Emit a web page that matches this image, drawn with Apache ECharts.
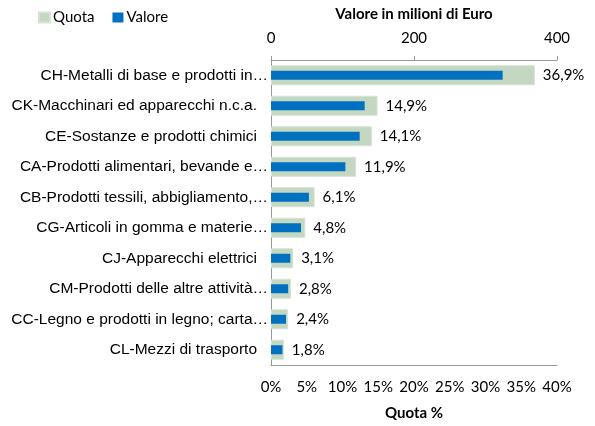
<!DOCTYPE html>
<html>
<head>
<meta charset="utf-8">
<script src="https://cdn.jsdelivr.net/npm/echarts@6/dist/echarts.min.js"></script>
<style>
  html, body { margin: 0; padding: 0; background: #fff; }
</style>
</head>
<body>
<div id="chart" style="width:595px;height:426px;"></div>
<script>
// settori (etichette come appaiono nel grafico)
const categories = [
  "CH-Metalli di base e prodotti in…",
  "CK-Macchinari ed apparecchi n.c.a.",
  "CE-Sostanze e prodotti chimici",
  "CA-Prodotti alimentari, bevande e…",
  "CB-Prodotti tessili, abbigliamento,…",
  "CG-Articoli in gomma e materie…",
  "CJ-Apparecchi elettrici",
  "CM-Prodotti delle altre attività…",
  "CC-Legno e prodotti in legno; carta…",
  "CL-Mezzi di trasporto"
];
// quota % e valore in milioni di euro
const quota = [36.9, 14.9, 14.1, 11.9, 6.1, 4.8, 3.1, 2.8, 2.4, 1.8];
const valore = [324, 131, 124, 104, 53, 42, 27, 24, 21, 16];

const catFont = "Liberation Sans";
const font = "Lato";
const isCut = s => s.endsWith("…");

const chart = echarts.init(document.getElementById("chart"));
const option = {
  textStyle: { fontFamily: font },
  legend: {
    left: 33,
    top: 5,
    icon: "rect",
    itemWidth: 11,
    itemHeight: 10,
    itemGap: 18,
    textStyle: { fontSize: 15, color: "#000", fontFamily: font, padding: [0, 0, 0, -2] },
    data: ["Quota", "Valore"]
  },
  grid: { left: 271, right: 38, top: 60, bottom: 61, outerBoundsMode: "none" },
  xAxis: [
    {
      type: "value",
      position: "bottom",
      min: 0,
      max: 40,
      interval: 5,
      name: "Quota %",
      nameLocation: "middle",
      nameGap: 41,
      nameTextStyle: { fontWeight: "bold", fontSize: 15, color: "#000", fontFamily: font },
      axisLine: { show: true, lineStyle: { color: "#999" } },
      axisTick: { show: false },
      splitLine: { show: false },
      axisLabel: { formatter: "{value}%", fontSize: 15, color: "#000", margin: 15, fontFamily: font }
    },
    {
      type: "value",
      position: "top",
      min: 0,
      max: 400,
      interval: 200,
      name: "Valore in milioni di Euro",
      nameLocation: "middle",
      nameGap: 38,
      nameTextStyle: { fontWeight: "bold", fontSize: 15, color: "#000", fontFamily: font },
      axisLine: { show: true, lineStyle: { color: "#999" } },
      axisTick: { show: true, length: 4, inside: false, lineStyle: { color: "#999" } },
      splitLine: { show: false },
      axisLabel: { fontSize: 15, color: "#000", margin: 14, fontFamily: font }
    }
  ],
  yAxis: [
    {
      type: "category",
      position: "left",
      inverse: true,
      data: categories,
      axisLine: { show: true, lineStyle: { color: "#999" } },
      axisTick: { show: false },
      axisLabel: {
        fontSize: 15.5,
        color: "#000",
        margin: 14,
        fontFamily: catFont,
        formatter: v => (isCut(v) ? "" : v)
      }
    },
    {
      // le etichette troncate sporgono verso l'asse
      type: "category",
      position: "left",
      offset: 0,
      inverse: true,
      data: categories,
      axisLine: { show: false },
      axisTick: { show: false },
      splitLine: { show: false },
      axisLabel: {
        fontSize: 15.5,
        color: "#000",
        margin: 3,
        fontFamily: catFont,
        formatter: v => (isCut(v) ? v : "")
      }
    }
  ],
  series: [
    {
      name: "Quota",
      type: "bar",
      xAxisIndex: 0,
      yAxisIndex: 0,
      data: quota,
      barWidth: 20,
      itemStyle: { color: "#c3d7c1", borderColor: "#d5e3d3", borderWidth: 1 },
      label: {
        show: true,
        position: "right",
        distance: 8,
        fontSize: 15,
        color: "#000",
        fontFamily: font,
        formatter: p => p.value.toFixed(1).replace(".", ",") + "%"
      },
      z: 1
    },
    {
      name: "Valore",
      type: "bar",
      xAxisIndex: 1,
      yAxisIndex: 1,
      data: valore,
      barWidth: 9,
      itemStyle: { color: "#0070c0" },
      z: 2
    }
  ]
};
chart.setOption(option);
</script>
</body>
</html>
